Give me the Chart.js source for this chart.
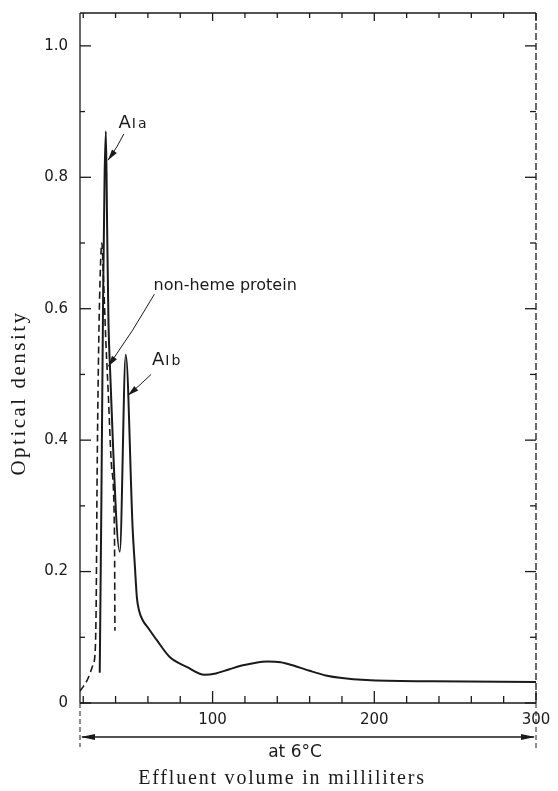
<!DOCTYPE html>
<html>
<head>
<meta charset="utf-8">
<script src="https://cdn.jsdelivr.net/npm/chart.js@4.4.0/dist/chart.umd.min.js"></script>
<style>
  html, body { margin: 0; padding: 0; background: #fff; }
</style>
</head>
<body>
<canvas id="grafico" width="558" height="791"></canvas>
<script>
// values: effluent volume (ml) vs optical density
const volumeSolid = [30.2, 31.2, 32.3, 33.2, 34.0, 34.8, 35.6, 36.4, 42.6, 46.3, 50.6, 51.9, 53.2, 54.6, 56.8, 60.5, 65.4, 73.5, 84.0, 95.0, 102.0, 110.0, 118.0, 126.0, 134.0, 142.0, 150.0, 160.0, 170.0, 180.0, 195.0, 236.0, 300.0];
const odSolid = [0.046, 0.30, 0.62, 0.80, 0.87, 0.72, 0.58, 0.52, 0.23, 0.53, 0.263, 0.21, 0.16, 0.14, 0.126, 0.113, 0.096, 0.070, 0.055, 0.043, 0.045, 0.051, 0.057, 0.061, 0.063, 0.062, 0.057, 0.049, 0.042, 0.038, 0.035, 0.033, 0.032];

const volumeDashed = [17.9, 20.0, 22.5, 24.5, 26.0, 27.3, 28.0, 28.6, 29.6, 30.6, 31.5, 32.6, 34.0, 35.5, 37.5, 39.3, 39.6];
const odDashed = [0.018, 0.025, 0.035, 0.047, 0.058, 0.075, 0.15, 0.35, 0.55, 0.66, 0.70, 0.64, 0.55, 0.47, 0.36, 0.26, 0.11];

const xTickLabels = [100, 200, 300];
const xTickMarks = [20, 40, 60, 80, 100, 120, 140, 160, 180, 200, 220, 240, 260, 280, 300];
const yTickLabels = [0, 0.2, 0.4, 0.6, 0.8, 1.0];
const yTickMarks = [0.1, 0.3, 0.5, 0.7, 0.9];

const ink = '#1a1a1a';
const tickFont = { family: 'DejaVu Sans', size: 15 };

const toPoints = (xs, ys) => xs.map((v, i) => ({ x: v, y: ys[i] }));

// frame, inward ticks, temperature arrow, labels and arrows
const extras = {
  id: 'extras',
  afterDraw(chart) {
    const { ctx, chartArea: a, scales: { x, y } } = chart;
    const line = (x1, y1, x2, y2) => { ctx.beginPath(); ctx.moveTo(x1, y1); ctx.lineTo(x2, y2); ctx.stroke(); };
    ctx.save();
    ctx.strokeStyle = ink;
    ctx.fillStyle = ink;
    ctx.lineWidth = 1.3;

    line(a.left, a.top, a.left, a.bottom);
    line(a.left, a.bottom, a.right, a.bottom);
    line(a.left, a.top, a.right, a.top);
    ctx.setLineDash([7, 3]);
    line(a.right, a.top, a.right, a.bottom);
    ctx.setLineDash([]);

    yTickLabels.forEach(v => {
      const py = y.getPixelForValue(v);
      line(a.left, py, a.left + 11, py);
      line(a.right - 11, py, a.right, py);
    });
    yTickMarks.forEach(v => {
      const py = y.getPixelForValue(v);
      line(a.left, py, a.left + 5, py);
      line(a.right - 6, py, a.right, py);
    });
    xTickMarks.forEach(v => {
      const px = x.getPixelForValue(v);
      const major = v % 100 === 0;
      line(px, a.bottom, px, a.bottom - (major ? 12 : 7));
      line(px, a.top, px, a.top + (major ? 8 : 5));
    });

    // "at 6 °C" range arrow
    const ay = a.bottom + 34;
    ctx.lineWidth = 1;
    ctx.setLineDash([5, 3]);
    line(a.left, a.bottom, a.left, a.bottom + 44);
    line(a.right, a.bottom, a.right, a.bottom + 46);
    ctx.setLineDash([]);
    ctx.lineWidth = 1.3;
    line(a.left + 2, ay, a.right - 2, ay);
    ctx.beginPath();
    ctx.moveTo(a.left + 1, ay); ctx.lineTo(a.left + 15, ay - 3); ctx.lineTo(a.left + 15, ay + 3); ctx.closePath(); ctx.fill();
    ctx.beginPath();
    ctx.moveTo(a.right - 1, ay); ctx.lineTo(a.right - 15, ay - 3); ctx.lineTo(a.right - 15, ay + 3); ctx.closePath(); ctx.fill();

    ctx.font = '17px "DejaVu Sans"';
    ctx.textAlign = 'center';
    ctx.textBaseline = 'alphabetic';
    ctx.fillText('at 6°C', 295, ay + 20);

    // axis titles
    ctx.font = '20px "Liberation Serif"';
    ctx.letterSpacing = '1.8px';
    ctx.fillText('Effluent volume in milliliters', 282, 784);
    ctx.font = '21px "Liberation Serif"';
    ctx.letterSpacing = '2.5px';
    ctx.save();
    ctx.translate(25, 393);
    ctx.rotate(-Math.PI / 2);
    ctx.fillText('Optical density', 0, 0);
    ctx.restore();
    ctx.letterSpacing = '0px';

    // peak labels
    const label = (ml, od, sub) => {
      const px = x.getPixelForValue(ml), py = y.getPixelForValue(od);
      ctx.textAlign = 'left';
      ctx.font = '18px "DejaVu Sans"';
      ctx.fillText('A', px, py);
      const w = ctx.measureText('A').width;
      ctx.font = '14px "DejaVu Sans"';
      ctx.letterSpacing = '2px';
      ctx.fillText(sub, px + w + 1, py);
      ctx.letterSpacing = '0px';
    };
    label(41.8, 0.875, 'Ia');
    label(62.5, 0.515, 'Ib');
    ctx.font = '16px "DejaVu Sans"';
    ctx.textAlign = 'left';
    ctx.fillText('non-heme protein', x.getPixelForValue(63.5), y.getPixelForValue(0.628));

    const arrow = (ml1, od1, ml2, od2, bend) => {
      const x1 = x.getPixelForValue(ml1), y1 = y.getPixelForValue(od1);
      const x2 = x.getPixelForValue(ml2), y2 = y.getPixelForValue(od2);
      const mx = (x1 + x2) / 2 + bend, my = (y1 + y2) / 2 - bend * 0.3;
      ctx.lineWidth = 1;
      ctx.beginPath(); ctx.moveTo(x1, y1); ctx.quadraticCurveTo(mx, my, x2, y2); ctx.stroke();
      const ang = Math.atan2(y2 - my, x2 - mx);
      ctx.beginPath();
      ctx.moveTo(x2, y2);
      ctx.lineTo(x2 - 11 * Math.cos(ang) + 3 * Math.sin(ang), y2 - 11 * Math.sin(ang) - 3 * Math.cos(ang));
      ctx.lineTo(x2 - 11 * Math.cos(ang) - 3 * Math.sin(ang), y2 - 11 * Math.sin(ang) + 3 * Math.cos(ang));
      ctx.closePath(); ctx.fill();
    };
    arrow(45.1, 0.866, 35.3, 0.826, 2);
    arrow(64.0, 0.622, 35.4, 0.512, 3);
    arrow(62.0, 0.500, 47.6, 0.468, 1);
    ctx.restore();
  }
};

new Chart(document.getElementById('grafico'), {
  type: 'line',
  data: {
    datasets: [
      {
        data: toPoints(volumeSolid, odSolid),
        borderColor: ink,
        borderWidth: 2,
        pointRadius: 0,
        cubicInterpolationMode: 'monotone'
      },
      {
        data: toPoints(volumeDashed, odDashed),
        borderColor: ink,
        borderWidth: 1.6,
        borderDash: [7, 4],
        pointRadius: 0,
        cubicInterpolationMode: 'monotone'
      }
    ]
  },
  options: {
    responsive: false,
    animation: false,
    devicePixelRatio: 1,
    layout: { padding: { top: 13, right: 22, left: 0, bottom: 0 } },
    plugins: { legend: { display: false }, tooltip: { enabled: false } },
    scales: {
      x: {
        type: 'linear',
        min: 18,
        max: 300,
        afterBuildTicks: s => { s.ticks = xTickLabels.map(v => ({ value: v })); },
        afterFit: s => { s.height = 88; s.paddingLeft = 0; s.paddingRight = 0; },
        grid: { display: false, drawTicks: false },
        border: { display: false },
        ticks: { padding: 8, color: ink, font: tickFont, maxRotation: 0, autoSkip: false, callback: v => String(v) }
      },
      y: {
        min: 0,
        max: 1.05,
        afterBuildTicks: s => { s.ticks = yTickLabels.map(v => ({ value: v })); },
        afterFit: s => { s.width = 80; s.paddingTop = 0; s.paddingBottom = 0; },
        grid: { display: false, drawTicks: false },
        border: { display: false },
        ticks: { padding: 12, color: ink, font: tickFont, autoSkip: false, callback: v => v === 0 ? '0' : v.toFixed(1) }
      }
    }
  },
  plugins: [extras]
});
</script>
</body>
</html>
